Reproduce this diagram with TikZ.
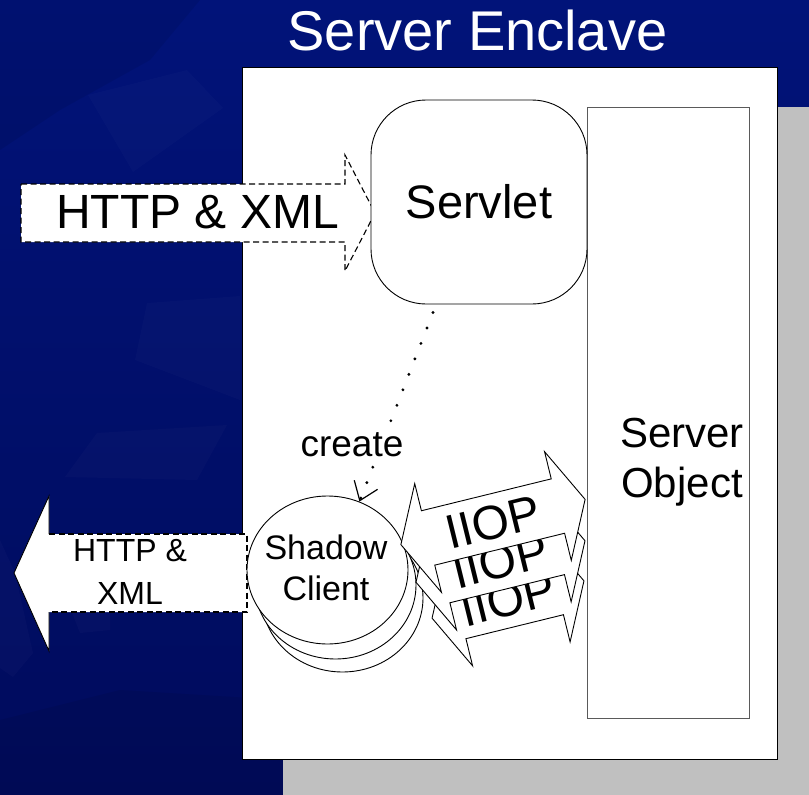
\documentclass[tikz,border=0pt]{standalone}
\usepackage{fontspec}
\setmainfont{Liberation Sans}
\usetikzlibrary{arrows.meta,calc,shapes.geometric}
\definecolor{bgtop}{HTML}{011379}
\definecolor{bgbottom}{HTML}{000B5C}
\definecolor{shadowgray}{HTML}{C0C0C0}
\definecolor{objgray}{HTML}{5A5A5A}
\begin{document}
\begin{tikzpicture}[x=1pt,y=-1pt,
  outline/.style={draw=black,line width=0.9pt},
  dashedge/.style={draw=black,line width=1.1pt,dash pattern=on 6pt off 3.5pt},
  lbl/.style={inner sep=0pt,anchor=base,text=black},
  gearlight/.style={fill=white,opacity=0.02},
  geardark/.style={fill=black,opacity=0.07},
  createline/.style={line width=3.2pt,line cap=round,dash pattern=on 0pt off 16.6pt,
    -{Straight Barb[length=17pt,width=25pt,line width=1.2pt]}},
]
\useasboundingbox (0,0) rectangle (809,795);

% slide backdrop with a faint cog pattern
\shade[top color=bgtop,bottom color=bgbottom] (0,0) rectangle (809,795);
\fill[geardark] (0,0) -- (200,0) -- (150,60) -- (60,110) -- (0,150) -- cycle;
\fill[gearlight] (88,95) -- (187,70) -- (223,108) -- (133,172) -- cycle;
\fill[gearlight] (147,303) -- (240,296) -- (240,400) -- (135,360) -- cycle;
\fill[gearlight] (65,477) -- (97,433) -- (227,425) -- (197,480) -- cycle;
\fill[gearlight] (0,540) -- (15,573) -- (33,653) -- (13,677) -- (0,668) -- cycle;
\fill[gearlight] (67,600) -- (110,587) -- (110,630) -- (80,633) -- cycle;
\fill[geardark] (0,720) -- (120,690) -- (283,700) -- (283,795) -- (0,795) -- cycle;

% drop shadow of the enclave panel
\fill[shadowgray] (283,107) rectangle (809,795);

% enclave panel
\node[draw=black,line width=1pt,fill=white,anchor=north west,
  minimum width=535pt,minimum height=692pt,inner sep=0pt] (enclave) at (242,67) {};
\node[lbl,text=white,font=\fontsize{56}{60}\selectfont] (title) at (477.5,50) {Server Enclave};

% server object column
\node[draw=objgray,line width=1.3pt,fill=white,anchor=north west,
  minimum width=162pt,minimum height=611pt,inner sep=0pt] (serverobj) at (587,107) {};
\node[lbl,font=\fontsize{42}{46}\selectfont] (objtop) at (682,447) {Server};
\node[lbl,font=\fontsize{42}{46}\selectfont] (objbot) at (682,497) {Object};

% incoming request arrow
\path[fill=white,dashedge] (21,184) -- (345,184) -- (345,155) -- (375,213)
  -- (345,271) -- (345,242) -- (21,242) -- cycle;
\node[lbl,font=\fontsize{48}{52}\selectfont] (inlabel) at (197.5,228) {HTTP \& XML};

% servlet
\node[outline,fill=white,rounded corners=55pt,minimum width=216pt,minimum height=204pt,
  inner sep=0pt,font=\fontsize{47}{50}\selectfont] (servlet) at (479,202) {Servlet};

% outgoing response arrow
\fill[white] (247,534) -- (49,534) -- (49,496) -- (14,573) -- (49,651) -- (49,612)
  -- (247,612) -- cycle;
\draw[dashedge] (49,534) -- (247,534) -- (247,612) -- (49,612);
\draw[outline] (49,534) -- (49,496) -- (14,573) -- (49,651) -- (49,612);
\node[lbl,font=\fontsize{32}{36}\selectfont] (outtop) at (130,561) {HTTP \&};
\node[lbl,font=\fontsize{32}{36}\selectfont] (outbot) at (130,604) {XML};

% stacked shadow clients
\node[ellipse,outline,fill=white,minimum width=161pt,minimum height=148pt,inner sep=0pt]
  (client3) at (342.5,598) {};
\node[ellipse,outline,fill=white,minimum width=161pt,minimum height=148pt,inner sep=0pt]
  (client2) at (335.5,585) {};
\node[ellipse,outline,fill=white,minimum width=161pt,minimum height=148pt,inner sep=0pt]
  (client) at (327.5,570) {};
\node[lbl,font=\fontsize{34}{38}\selectfont] (clienttop) at (326,559) {Shadow};
\node[lbl,font=\fontsize{34}{38}\selectfont] (clientbot) at (326,600) {Client};

% servlet creates the shadow client
\coordinate (createstart) at ($(servlet.south)+(-46,8)$);
\draw[createline] (createstart) -- (client.65);
\node[fill=white,inner sep=1.5pt,anchor=base,font=\fontsize{37}{40}\selectfont]
  (createlbl) at (352,456) {create};

% IIOP links, back to front
\foreach \cx/\cy/\hl/\nm in {508/599.5/78.2/iiopc,500.5/561.5/87/iiopb,493/522/94.85/iiopa}{
  \begin{scope}[shift={(\cx,\cy)},rotate=13.8]
    \path[fill=white,outline] (-\hl,0) -- (-\hl+28,-56) -- (-\hl+28,-28) -- (\hl-28,-28)
      -- (\hl-28,-56) -- (\hl,0) -- (\hl-28,56) -- (\hl-28,28) -- (-\hl+28,28)
      -- (-\hl+28,56) -- cycle;
    \node[transform shape,inner sep=0pt,font=\fontsize{48}{50}\selectfont] (\nm) at (0,0) {IIOP};
  \end{scope}
}
\end{tikzpicture}
\end{document}
